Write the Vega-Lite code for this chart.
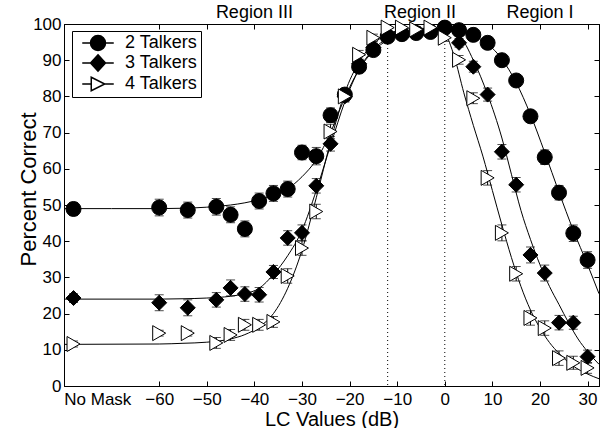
{
  "$schema": "https://vega.github.io/schema/vega-lite/v6.json",
  "width": 535,
  "height": 362,
  "autosize": {"type": "none"},
  "padding": {"left": 64, "top": 24, "right": 2, "bottom": 42},
  "background": "white",
  "config": {
    "font": "Liberation Sans",
    "view": {"stroke": "black", "strokeWidth": 1},
    "axis": {"grid": false, "domainColor": "black", "tickColor": "black", "labelColor": "black", "titleColor": "black", "labelFont": "Liberation Sans", "titleFont": "Liberation Sans", "titleFontWeight": "normal", "labelFlush": false, "labelOverlap": false}
  },
  "datasets": {
    "pts": [
      {"series": "2 Talkers", "x": -78, "y": 48.9, "e": 1.8},
      {"series": "2 Talkers", "x": -60, "y": 49.3, "e": 2.3},
      {"series": "2 Talkers", "x": -54, "y": 48.6, "e": 2.2},
      {"series": "2 Talkers", "x": -48, "y": 49.5, "e": 2.3},
      {"series": "2 Talkers", "x": -45, "y": 47.3, "e": 2.2},
      {"series": "2 Talkers", "x": -42, "y": 43.4, "e": 2.2},
      {"series": "2 Talkers", "x": -39, "y": 51.1, "e": 2.2},
      {"series": "2 Talkers", "x": -36, "y": 53.2, "e": 2.2},
      {"series": "2 Talkers", "x": -33, "y": 54.4, "e": 2.2},
      {"series": "2 Talkers", "x": -30, "y": 64.5, "e": 2.0},
      {"series": "2 Talkers", "x": -27, "y": 63.5, "e": 2.4},
      {"series": "2 Talkers", "x": -24, "y": 74.8, "e": 2.0},
      {"series": "2 Talkers", "x": -21, "y": 80.5, "e": 1.5},
      {"series": "2 Talkers", "x": -18, "y": 88.2, "e": 1.5},
      {"series": "2 Talkers", "x": -15, "y": 92.8, "e": 1.5},
      {"series": "2 Talkers", "x": -12, "y": 96.5, "e": 1.0},
      {"series": "2 Talkers", "x": -9, "y": 97.2, "e": 1.0},
      {"series": "2 Talkers", "x": -6, "y": 97.5, "e": 1.0},
      {"series": "2 Talkers", "x": -3, "y": 97.8, "e": 1.0},
      {"series": "2 Talkers", "x": 0, "y": 99.0, "e": 1.0},
      {"series": "2 Talkers", "x": 3, "y": 98.3, "e": 1.0},
      {"series": "2 Talkers", "x": 6, "y": 97.0, "e": 1.0},
      {"series": "2 Talkers", "x": 9, "y": 94.8, "e": 1.0},
      {"series": "2 Talkers", "x": 12, "y": 90.0, "e": 1.2},
      {"series": "2 Talkers", "x": 15, "y": 84.4, "e": 1.2},
      {"series": "2 Talkers", "x": 18, "y": 74.5, "e": 1.5},
      {"series": "2 Talkers", "x": 21, "y": 63.2, "e": 2.0},
      {"series": "2 Talkers", "x": 24, "y": 53.4, "e": 2.0},
      {"series": "2 Talkers", "x": 27, "y": 42.2, "e": 2.3},
      {"series": "2 Talkers", "x": 30, "y": 34.8, "e": 2.3},
      {"series": "3 Talkers", "x": -78, "y": 24.3, "e": 1.2},
      {"series": "3 Talkers", "x": -60, "y": 23.0, "e": 2.2},
      {"series": "3 Talkers", "x": -54, "y": 21.6, "e": 2.2},
      {"series": "3 Talkers", "x": -48, "y": 23.8, "e": 2.0},
      {"series": "3 Talkers", "x": -45, "y": 27.1, "e": 2.2},
      {"series": "3 Talkers", "x": -42, "y": 25.4, "e": 2.0},
      {"series": "3 Talkers", "x": -39, "y": 25.2, "e": 2.0},
      {"series": "3 Talkers", "x": -36, "y": 31.5, "e": 1.8},
      {"series": "3 Talkers", "x": -33, "y": 40.9, "e": 2.0},
      {"series": "3 Talkers", "x": -30, "y": 42.3, "e": 2.2},
      {"series": "3 Talkers", "x": -27, "y": 55.3, "e": 2.0},
      {"series": "3 Talkers", "x": -24, "y": 66.9, "e": 2.0},
      {"series": "3 Talkers", "x": -21, "y": 80.0, "e": 1.5},
      {"series": "3 Talkers", "x": -18, "y": 89.0, "e": 1.2},
      {"series": "3 Talkers", "x": -15, "y": 93.5, "e": 1.2},
      {"series": "3 Talkers", "x": -12, "y": 97.0, "e": 1.0},
      {"series": "3 Talkers", "x": -9, "y": 97.5, "e": 1.0},
      {"series": "3 Talkers", "x": -6, "y": 97.8, "e": 1.0},
      {"series": "3 Talkers", "x": -3, "y": 98.0, "e": 1.0},
      {"series": "3 Talkers", "x": 0, "y": 98.5, "e": 1.0},
      {"series": "3 Talkers", "x": 3, "y": 94.8, "e": 1.2},
      {"series": "3 Talkers", "x": 6, "y": 88.2, "e": 1.5},
      {"series": "3 Talkers", "x": 9, "y": 80.5, "e": 1.8},
      {"series": "3 Talkers", "x": 12, "y": 64.7, "e": 2.0},
      {"series": "3 Talkers", "x": 15, "y": 55.6, "e": 2.0},
      {"series": "3 Talkers", "x": 18, "y": 36.2, "e": 2.2},
      {"series": "3 Talkers", "x": 21, "y": 31.2, "e": 2.2},
      {"series": "3 Talkers", "x": 24, "y": 17.5, "e": 2.0},
      {"series": "3 Talkers", "x": 27, "y": 17.5, "e": 1.8},
      {"series": "3 Talkers", "x": 30, "y": 8.1, "e": 1.8},
      {"series": "4 Talkers", "x": -78, "y": 11.6, "e": 0.8},
      {"series": "4 Talkers", "x": -60, "y": 14.6, "e": 0.8},
      {"series": "4 Talkers", "x": -54, "y": 14.6, "e": 0.8},
      {"series": "4 Talkers", "x": -48, "y": 11.9, "e": 1.5},
      {"series": "4 Talkers", "x": -45, "y": 14.1, "e": 1.5},
      {"series": "4 Talkers", "x": -42, "y": 16.9, "e": 1.5},
      {"series": "4 Talkers", "x": -39, "y": 16.9, "e": 1.5},
      {"series": "4 Talkers", "x": -36, "y": 17.7, "e": 1.5},
      {"series": "4 Talkers", "x": -33, "y": 30.4, "e": 2.0},
      {"series": "4 Talkers", "x": -30, "y": 38.1, "e": 2.0},
      {"series": "4 Talkers", "x": -27, "y": 48.2, "e": 2.0},
      {"series": "4 Talkers", "x": -24, "y": 70.3, "e": 2.0},
      {"series": "4 Talkers", "x": -21, "y": 80.0, "e": 1.5},
      {"series": "4 Talkers", "x": -18, "y": 91.5, "e": 1.2},
      {"series": "4 Talkers", "x": -15, "y": 96.2, "e": 1.0},
      {"series": "4 Talkers", "x": -12, "y": 99.0, "e": 0.8},
      {"series": "4 Talkers", "x": -9, "y": 99.0, "e": 0.8},
      {"series": "4 Talkers", "x": -6, "y": 98.5, "e": 0.8},
      {"series": "4 Talkers", "x": -3, "y": 99.0, "e": 0.8},
      {"series": "4 Talkers", "x": 0, "y": 96.2, "e": 1.0},
      {"series": "4 Talkers", "x": 3, "y": 90.1, "e": 1.2},
      {"series": "4 Talkers", "x": 6, "y": 79.5, "e": 1.5},
      {"series": "4 Talkers", "x": 9, "y": 57.5, "e": 2.0},
      {"series": "4 Talkers", "x": 12, "y": 42.3, "e": 2.2},
      {"series": "4 Talkers", "x": 15, "y": 31.0, "e": 2.0},
      {"series": "4 Talkers", "x": 18, "y": 18.8, "e": 2.0},
      {"series": "4 Talkers", "x": 21, "y": 16.0, "e": 2.0},
      {"series": "4 Talkers", "x": 24, "y": 7.7, "e": 2.0},
      {"series": "4 Talkers", "x": 27, "y": 6.4, "e": 1.8},
      {"series": "4 Talkers", "x": 30, "y": 5.0, "e": 1.5}
    ],
    "fit": [
      {"series": "2 Talkers", "x": -80, "y": 49},
      {"series": "2 Talkers", "x": -70, "y": 49},
      {"series": "2 Talkers", "x": -60, "y": 49},
      {"series": "2 Talkers", "x": -55, "y": 49.1},
      {"series": "2 Talkers", "x": -50, "y": 49.4},
      {"series": "2 Talkers", "x": -45, "y": 50},
      {"series": "2 Talkers", "x": -42, "y": 50.6},
      {"series": "2 Talkers", "x": -39, "y": 51.5},
      {"series": "2 Talkers", "x": -36, "y": 52.7},
      {"series": "2 Talkers", "x": -33, "y": 54.5},
      {"series": "2 Talkers", "x": -30, "y": 57.8},
      {"series": "2 Talkers", "x": -27, "y": 62.5},
      {"series": "2 Talkers", "x": -24, "y": 70},
      {"series": "2 Talkers", "x": -22, "y": 76.5},
      {"series": "2 Talkers", "x": -20, "y": 82.5},
      {"series": "2 Talkers", "x": -18, "y": 87.5},
      {"series": "2 Talkers", "x": -15, "y": 92.5},
      {"series": "2 Talkers", "x": -12, "y": 95.6},
      {"series": "2 Talkers", "x": -9, "y": 97.3},
      {"series": "2 Talkers", "x": -6, "y": 98.2},
      {"series": "2 Talkers", "x": -3, "y": 98.6},
      {"series": "2 Talkers", "x": 0, "y": 98.6},
      {"series": "2 Talkers", "x": 3, "y": 98.1},
      {"series": "2 Talkers", "x": 6, "y": 96.8},
      {"series": "2 Talkers", "x": 9, "y": 94.5},
      {"series": "2 Talkers", "x": 12, "y": 90.3},
      {"series": "2 Talkers", "x": 15, "y": 83.8},
      {"series": "2 Talkers", "x": 18, "y": 75},
      {"series": "2 Talkers", "x": 21, "y": 64.5},
      {"series": "2 Talkers", "x": 24, "y": 53.5},
      {"series": "2 Talkers", "x": 27, "y": 43},
      {"series": "2 Talkers", "x": 30, "y": 33.5},
      {"series": "2 Talkers", "x": 32.4, "y": 25.5},
      {"series": "3 Talkers", "x": -80, "y": 24},
      {"series": "3 Talkers", "x": -60, "y": 24},
      {"series": "3 Talkers", "x": -55, "y": 24.1},
      {"series": "3 Talkers", "x": -50, "y": 24.3},
      {"series": "3 Talkers", "x": -45, "y": 24.8},
      {"series": "3 Talkers", "x": -42, "y": 25.5},
      {"series": "3 Talkers", "x": -39, "y": 27},
      {"series": "3 Talkers", "x": -36, "y": 30.8},
      {"series": "3 Talkers", "x": -33, "y": 36},
      {"series": "3 Talkers", "x": -30, "y": 43},
      {"series": "3 Talkers", "x": -27, "y": 54},
      {"series": "3 Talkers", "x": -24, "y": 66.5},
      {"series": "3 Talkers", "x": -21, "y": 78.5},
      {"series": "3 Talkers", "x": -18, "y": 87.5},
      {"series": "3 Talkers", "x": -15, "y": 93},
      {"series": "3 Talkers", "x": -12, "y": 96},
      {"series": "3 Talkers", "x": -9, "y": 97.5},
      {"series": "3 Talkers", "x": -6, "y": 98.2},
      {"series": "3 Talkers", "x": -3, "y": 98.5},
      {"series": "3 Talkers", "x": 0, "y": 98.3},
      {"series": "3 Talkers", "x": 3, "y": 96.8},
      {"series": "3 Talkers", "x": 6, "y": 90},
      {"series": "3 Talkers", "x": 9, "y": 80.5},
      {"series": "3 Talkers", "x": 12, "y": 68.5},
      {"series": "3 Talkers", "x": 14, "y": 58.5},
      {"series": "3 Talkers", "x": 16, "y": 48.5},
      {"series": "3 Talkers", "x": 18, "y": 40.5},
      {"series": "3 Talkers", "x": 20, "y": 33.5},
      {"series": "3 Talkers", "x": 22, "y": 27.5},
      {"series": "3 Talkers", "x": 24, "y": 22.5},
      {"series": "3 Talkers", "x": 26, "y": 17.5},
      {"series": "3 Talkers", "x": 28, "y": 13},
      {"series": "3 Talkers", "x": 30, "y": 9.5},
      {"series": "3 Talkers", "x": 32.4, "y": 6},
      {"series": "4 Talkers", "x": -80, "y": 11.5},
      {"series": "4 Talkers", "x": -60, "y": 11.6},
      {"series": "4 Talkers", "x": -55, "y": 11.8},
      {"series": "4 Talkers", "x": -50, "y": 12.1},
      {"series": "4 Talkers", "x": -45, "y": 13},
      {"series": "4 Talkers", "x": -42, "y": 14.2},
      {"series": "4 Talkers", "x": -39, "y": 16.3},
      {"series": "4 Talkers", "x": -36, "y": 20},
      {"series": "4 Talkers", "x": -33, "y": 27},
      {"series": "4 Talkers", "x": -30, "y": 37.5},
      {"series": "4 Talkers", "x": -27, "y": 52},
      {"series": "4 Talkers", "x": -24, "y": 67.5},
      {"series": "4 Talkers", "x": -21, "y": 81},
      {"series": "4 Talkers", "x": -18, "y": 89.5},
      {"series": "4 Talkers", "x": -15, "y": 94.5},
      {"series": "4 Talkers", "x": -12, "y": 97.2},
      {"series": "4 Talkers", "x": -9, "y": 98.4},
      {"series": "4 Talkers", "x": -6, "y": 98.8},
      {"series": "4 Talkers", "x": -3, "y": 98.8},
      {"series": "4 Talkers", "x": -1, "y": 98.4},
      {"series": "4 Talkers", "x": 0, "y": 97.5},
      {"series": "4 Talkers", "x": 2, "y": 91},
      {"series": "4 Talkers", "x": 4, "y": 81},
      {"series": "4 Talkers", "x": 6, "y": 72},
      {"series": "4 Talkers", "x": 8, "y": 63.5},
      {"series": "4 Talkers", "x": 10, "y": 54},
      {"series": "4 Talkers", "x": 12, "y": 44.5},
      {"series": "4 Talkers", "x": 14, "y": 35.5},
      {"series": "4 Talkers", "x": 16, "y": 27.5},
      {"series": "4 Talkers", "x": 18, "y": 21},
      {"series": "4 Talkers", "x": 20, "y": 16},
      {"series": "4 Talkers", "x": 22, "y": 12},
      {"series": "4 Talkers", "x": 24, "y": 9},
      {"series": "4 Talkers", "x": 27, "y": 5.5},
      {"series": "4 Talkers", "x": 30, "y": 3.3},
      {"series": "4 Talkers", "x": 32.4, "y": 2}
    ],
    "regions": [
      {"label": "Region III", "x": -40, "y": 101.7},
      {"label": "Region II", "x": -5.2, "y": 101.7},
      {"label": "Region I", "x": 20, "y": 101.7}
    ],
    "vlines": [{"x": -12}, {"x": 0}]
  },
  "layer": [
    {
      "data": {"name": "vlines"},
      "mark": {"type": "rule", "color": "black", "strokeWidth": 1, "strokeDash": [1, 3]},
      "encoding": {
        "x": {"field": "x", "type": "quantitative", "scale": {"domain": [-80, 32.4], "nice": false, "zero": false}, "axis": null}
      }
    },
    {
      "data": {"name": "fit"},
      "mark": {"type": "line", "color": "black", "strokeWidth": 1, "interpolate": "monotone"},
      "encoding": {
        "x": {"field": "x", "type": "quantitative", "scale": {"domain": [-80, 32.4], "nice": false, "zero": false},
          "axis": {"orient": "bottom", "values": [-73, -60, -50, -40, -30, -20, -10, 0, 10, 20, 30], "labelExpr": "datum.value < -70 ? 'No Mask' : datum.label", "tickOpacity": {"condition": {"test": "datum.value < -70", "value": 0}, "value": 1}, "tickSize": -5, "labelPadding": 10, "labelFontSize": 17, "title": "LC Values (dB)", "titleFontSize": 20, "titlePadding": 2}},
        "y": {"field": "y", "type": "quantitative", "scale": {"domain": [0, 100], "nice": false},
          "axis": {"orient": "left", "values": [0, 10, 20, 30, 40, 50, 60, 70, 80, 90, 100], "tickSize": -5, "labelPadding": 8, "labelFontSize": 17, "title": "Percent Correct", "titleFontSize": 22, "titleX": -29, "titleY": 165, "titleBaseline": "alphabetic", "titleAlign": "center", "titleAngle": -90}},
        "detail": {"field": "series"}
      }
    },
    {
      "data": {"name": "pts"},
      "mark": {"type": "errorbar", "color": "black", "thickness": 1, "ticks": {"size": 9, "color": "black"}},
      "encoding": {
        "x": {"field": "x", "type": "quantitative", "axis": null},
        "y": {"field": "y", "type": "quantitative", "axis": null},
        "yError": {"field": "e"}
      }
    },
    {
      "data": {"name": "pts"},
      "mark": {"type": "point", "filled": true, "stroke": "black", "strokeWidth": 1, "size": 225, "opacity": 1},
      "encoding": {
        "x": {"field": "x", "type": "quantitative", "axis": null},
        "y": {"field": "y", "type": "quantitative", "axis": null},
        "shape": {"field": "series", "type": "nominal", "scale": {"domain": ["2 Talkers", "3 Talkers", "4 Talkers"], "range": ["circle", "diamond", "triangle-right"]}, "legend": null},
        "fill": {"field": "series", "type": "nominal", "scale": {"domain": ["2 Talkers", "3 Talkers", "4 Talkers"], "range": ["black", "black", "white"]}, "legend": null}
      }
    },
    {
      "data": {"name": "regions"},
      "mark": {"type": "text", "fontSize": 18, "color": "black", "align": "center", "baseline": "alphabetic"},
      "encoding": {
        "x": {"field": "x", "type": "quantitative",
          "axis": {"orient": "top", "values": [-60, -50, -40, -30, -20, -10, 0, 10, 20, 30], "labels": false, "tickSize": -5, "title": null}},
        "y": {"field": "y", "type": "quantitative",
          "axis": {"orient": "right", "values": [0, 10, 20, 30, 40, 50, 60, 70, 80, 90, 100], "labels": false, "tickSize": -5, "title": null}},
        "text": {"field": "label"}
      }
    },
    {
      "data": {"name": "pts"},
      "transform": [{"filter": "false"}],
      "mark": {"type": "point", "filled": true, "stroke": "black", "strokeWidth": 1, "opacity": 1},
      "encoding": {
        "x": {"field": "x", "type": "quantitative", "axis": null},
        "y": {"field": "y", "type": "quantitative", "axis": null},
        "shape": {"field": "series", "type": "nominal",
          "scale": {"domain": ["2 Talkers", "3 Talkers", "4 Talkers"], "range": ["M-2.1,0L-1,0M1,0L2.1,0M1,0A1,1,0,1,1,-1,0A1,1,0,1,1,1,0Z", "M-2.1,0L-1,0M1,0L2.1,0M0,-1.1L1,0L0,1.1L-1,0Z", "M-2.1,0L-0.9,0M0.9,0L2.1,0M-0.9,-0.9L0.9,0L-0.9,0.9Z"]},
          "legend": {"title": null, "orient": "none", "legendX": 8, "legendY": 7, "padding": 3, "fillColor": "white", "strokeColor": "black", "labelFontSize": 18, "labelColor": "black", "labelFont": "Liberation Sans", "symbolSize": 225, "symbolOffset": 14, "labelOffset": 18, "rowPadding": -3, "labelExpr": "datum.label + '  '",
            "encode": {"symbols": {"update": {"stroke": {"value": "black"}, "strokeWidth": {"value": 1}, "opacity": {"value": 1}}}}}},
        "fill": {"field": "series", "type": "nominal",
          "scale": {"domain": ["2 Talkers", "3 Talkers", "4 Talkers"], "range": ["black", "black", "white"]},
          "legend": {"title": null, "orient": "none", "legendX": 8, "legendY": 7, "padding": 3, "fillColor": "white", "strokeColor": "black", "labelFontSize": 18, "labelColor": "black", "labelFont": "Liberation Sans", "symbolSize": 225, "symbolOffset": 14, "labelOffset": 18, "rowPadding": -3, "labelExpr": "datum.label + '  '",
            "encode": {"symbols": {"update": {"stroke": {"value": "black"}, "strokeWidth": {"value": 1}, "opacity": {"value": 1}}}}}}
      }
    }
  ],
  "resolve": {
    "scale": {"shape": "independent", "fill": "independent"},
    "axis": {"x": "independent", "y": "independent"}
  }
}
